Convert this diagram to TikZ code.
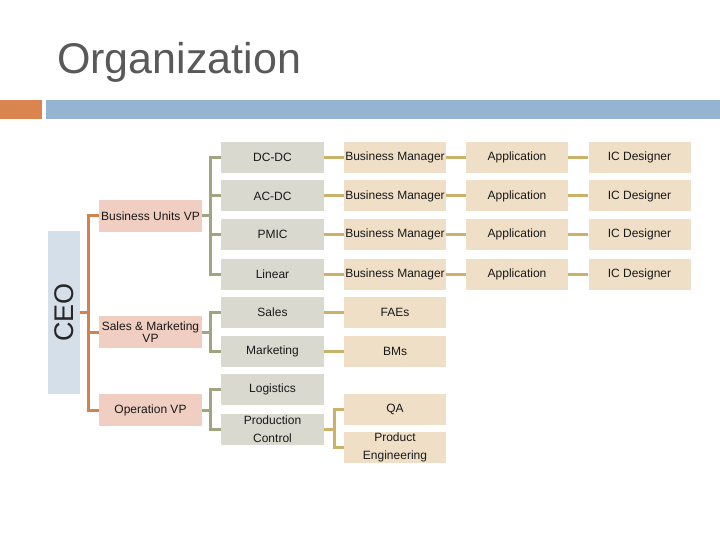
\documentclass[tikz,border=0pt]{standalone}
\usepackage{fontspec}
\setmainfont{Liberation Sans}
\definecolor{obar}{HTML}{DA8450}
\definecolor{bbar}{HTML}{94B4D2}
\definecolor{ceofill}{HTML}{D5DFEA}
\definecolor{vpfill}{HTML}{F0CEC1}
\definecolor{gfill}{HTML}{D9D9CF}
\definecolor{tfill}{HTML}{EFDFC7}
\definecolor{oline}{HTML}{D0834F}
\definecolor{gline}{HTML}{A1A57F}
\definecolor{yline}{HTML}{CCB16B}
\definecolor{ttl}{HTML}{595959}
\tikzset{
  boxbase/.style={inner sep=0pt, minimum height=31pt, align=center, text=black!90, font=\fontsize{12}{18}\selectfont},
  vpbox/.style={boxbase, fill=vpfill, minimum width=103pt, minimum height=32pt},
  gbox/.style={boxbase, fill=gfill, minimum width=103pt},
  tbox/.style={boxbase, fill=tfill, minimum width=102pt},
  ocon/.style={draw=oline, line width=3pt},
  gcon/.style={draw=gline, line width=3pt},
  ycon/.style={draw=yline, line width=3pt},
}
\begin{document}
\begin{tikzpicture}[x=1pt,y=-1pt]
\useasboundingbox (0,0) rectangle (720,540);
% title and bars
\node[anchor=base west, inner sep=0pt, text=ttl, font=\fontsize{43}{50}\selectfont] (title) at (57,74) {Organization};
\fill[obar] (0,100) rectangle (42,119);
\fill[bbar] (46,100) rectangle (720,119);
% CEO
\node[fill=ceofill, minimum width=32pt, minimum height=163pt, inner sep=0pt] (ceo) at (64,312.5) {};
\node[rotate=90, inner sep=0pt, font=\fontsize{27}{30}\selectfont, text=black!85] (ceotext) at (ceo.center) {CEO};
% VPs
\node[vpbox] (buvp) at (150.5,216) {Business Units VP};
\node[vpbox] (smvp) at (150.5,332) {Sales \& Marketing\\[-6pt]VP};
\node[vpbox] (opvp) at (150.5,410) {Operation VP};
% gray column
\node[gbox] (dcdc) at (272.5,157.5) {DC-DC};
\node[gbox] (acdc) at (272.5,196) {AC-DC};
\node[gbox] (pmic) at (272.5,234.5) {PMIC};
\node[gbox] (linear) at (272.5,274) {Linear};
\node[gbox] (sales) at (272.5,312.5) {Sales};
\node[gbox] (mkt) at (272.5,351) {Marketing};
\node[gbox] (logi) at (272.5,389.5) {Logistics};
\node[gbox] (prodc) at (272.5,429) {Production\\Control};
% tan columns
\foreach \n/\y in {1/157.5,2/196,3/234.5,4/274}{
  \node[tbox] (bm\n) at (395,\y) {Business Manager};
  \node[tbox] (app\n) at (517,\y) {Application};
  \node[tbox] (ic\n) at (639.5,\y) {IC Designer};
}
\node[tbox] (fae) at (395,312.5) {FAEs};
\node[tbox] (bms) at (395,351) {BMs};
\node[tbox] (qa) at (395,409.5) {QA};
\node[tbox] (pe) at (395,447.5) {Product\\Engineering};
% orange connectors
\draw[ocon] (ceo.east) -- (89,312.5);
\draw[ocon] (buvp.west) -- ++(-10,0) |- (opvp.west);
\draw[ocon] (smvp.west) -- ++(-10,0);
% green connectors
\draw[gcon] (buvp.east) -- ++(9,0);
\draw[gcon] (dcdc.west) -- ++(-10,0) |- (linear.west);
\draw[gcon] (acdc.west) -- ++(-10,0);
\draw[gcon] (pmic.west) -- ++(-10,0);
\draw[gcon] (smvp.east) -- ++(9,0);
\draw[gcon] (sales.west) -- ++(-10,0) |- (mkt.west);
\draw[gcon] (opvp.east) -- ++(9,0);
\draw[gcon] (logi.west) -- ++(-10,0) |- (prodc.west);
% gold connectors
\foreach \n/\g in {1/dcdc,2/acdc,3/pmic,4/linear}{
  \draw[ycon] (\g.east) -- (bm\n.west);
  \draw[ycon] (bm\n.east) -- (app\n.west);
  \draw[ycon] (app\n.east) -- (ic\n.west);
}
\draw[ycon] (sales.east) -- (fae.west);
\draw[ycon] (mkt.east) -- (bms.west);
\draw[ycon] (prodc.east) -- ++(11,0);
\draw[ycon] (qa.west) -- ++(-9,0) |- (pe.west);
\end{tikzpicture}
\end{document}
